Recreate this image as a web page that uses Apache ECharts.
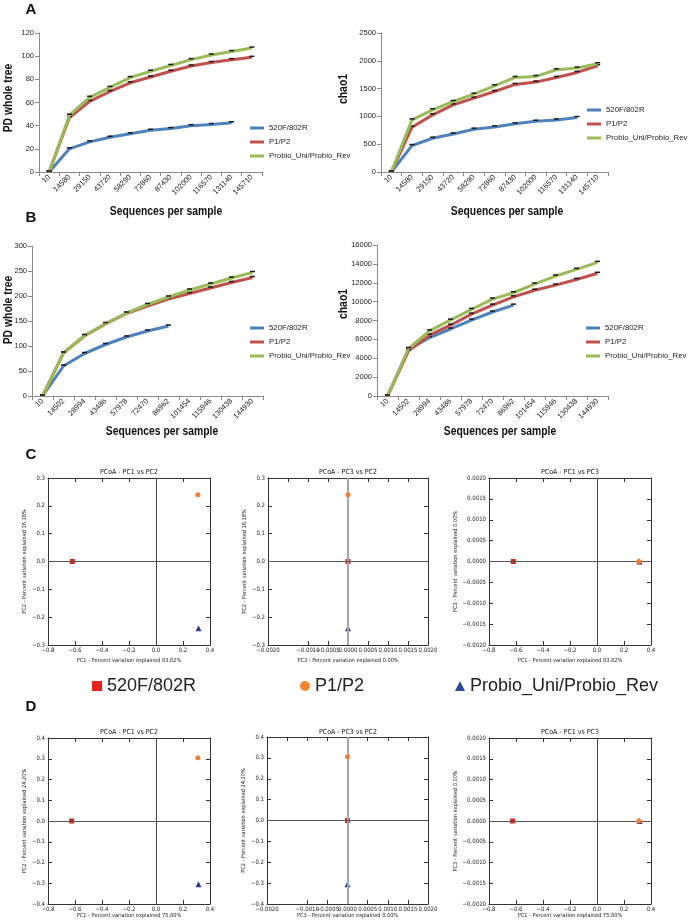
<!DOCTYPE html>
<html>
<head>
<meta charset="utf-8">
<script src="https://cdn.jsdelivr.net/npm/echarts@6/dist/echarts.min.js"></script>
<style>
html,body{margin:0;padding:0;background:#fff;}
#chart{width:689px;height:922px;}
</style>
</head>
<body>
<div id="chart"></div>
<script>
// ---------------- DATA ----------------
const groupNames = ['520F/802R', 'P1/P2', 'Probio_Uni/Probio_Rev'];

const catsA = ['10','14580','29150','43720','58290','72860','87430','102000','116570','131140','145710'];
const catsB = ['10','14502','28994','43486','57978','72470','86962','101454','115946','130438','144930'];

// Panel A - PD whole tree
const pdA_520 = [0, 20, 26, 30, 33, 36, 37.5, 40, 41, 42.5];
const pdA_P1 = [0, 47, 61, 69.5, 77, 82, 87, 91.5, 94.5, 97, 99];
const pdA_Probio = [0, 49, 64.5, 73, 81.5, 87, 92, 97, 101, 104, 107];
// Panel A - chao1
const chaoA_520 = [0, 475, 607, 685, 770, 811, 866, 913, 937, 980];
const chaoA_P1 = [0, 805, 1028, 1208, 1328, 1448, 1575, 1617, 1701, 1791, 1911];
const chaoA_Probio = [0, 937, 1118, 1268, 1400, 1550, 1701, 1719, 1839, 1869, 1947];
// Panel B - PD whole tree
const pdB_520 = [0, 60, 85, 103, 118, 130, 140];
const pdB_P1 = [0, 86, 120, 144, 165, 180, 194, 205, 216, 227, 237];
const pdB_Probio = [0, 86, 121, 145, 166, 183, 198, 212, 224, 236, 247];
// Panel B - chao1
const chaoB_520 = [0, 4900, 6200, 7100, 8050, 8900, 9630];
const chaoB_P1 = [0, 4780, 6450, 7500, 8670, 9630, 10510, 11200, 11750, 12350, 13000];
const chaoB_Probio = [0, 5030, 6900, 8040, 9170, 10270, 10940, 11860, 12710, 13420, 14160];

// PCoA coordinates, order: 520F/802R, P1/P2, Probio_Uni/Probio_Rev
const pcoaC_PC1 = [-0.62, 0.31, 0.315];
const pcoaC_PC2 = [0.0, 0.24, -0.24];
const pcoaC_PC3 = [0.0, 0.0, 0.0];
const pcoaD_PC1 = [-0.625, 0.31, 0.315];
const pcoaD_PC2 = [0.0, 0.305, -0.305];
const pcoaD_PC3 = [0.0, 0.0, 0.0];

// ---------------- STYLE ----------------
const FR = '"Liberation Sans", Arial, sans-serif';
const FM = '"DejaVu Sans Condensed", "DejaVu Sans", sans-serif';
const lineColors = ['#4F81BD', '#C0504D', '#9BBB59'];
const ptColors = ['#d6261f', '#f08030', '#2d3c8c'];
const ptLegendColors = ['#e8221b', '#f3862e', '#2f4a9c'];
const ptSymbols = ['rect', 'circle', 'triangle'];

const option = {
  animation: false,
  backgroundColor: '#ffffff',
  grid: [], xAxis: [], yAxis: [], series: [], legend: [], graphic: []
};

function addLine(box, cats, yMin, yMax, yInt, dataSets, legPos) {
  const gi = option.grid.length;
  option.grid.push({left: box[0], top: box[1], width: box[2], height: box[3]});
  const xi = option.xAxis.length;
  option.xAxis.push({
    gridIndex: gi, type: 'category', data: cats, boundaryGap: true,
    axisLine: {lineStyle: {color: '#8a8a8a', width: 1}},
    axisTick: {show: true, interval: 0, length: 4, lineStyle: {color: '#8a8a8a'}},
    axisLabel: {interval: 0, rotate: 45, fontSize: 7.5, fontFamily: FR, color: '#222', margin: 4},
    splitLine: {show: false}
  });
  const yi = option.yAxis.length;
  option.yAxis.push({
    gridIndex: gi, type: 'value', min: yMin, max: yMax, interval: yInt,
    axisLine: {show: true, lineStyle: {color: '#8a8a8a'}},
    axisTick: {show: true, length: 4, lineStyle: {color: '#8a8a8a'}},
    axisLabel: {fontSize: 7.5, fontFamily: FR, color: '#222', margin: 5, formatter: v => String(v)},
    splitLine: {show: false}
  });
  dataSets.forEach((d, k) => {
    option.series.push({
      type: 'line', name: groupNames[k], xAxisIndex: xi, yAxisIndex: yi, data: d,
      lineStyle: {color: lineColors[k], width: 3},
      itemStyle: {color: '#1a1a1a', borderWidth: 0},
      symbol: 'rect', symbolSize: [5, 1.5], symbolOffset: [0, -1], showSymbol: true, showAllSymbol: true,
      z: 2 + k
    });
  });
  option.legend.push({
    orient: 'vertical', left: legPos[0], top: legPos[1], padding: 0,
    itemWidth: 14, itemHeight: 3, itemGap: 4,
    textStyle: {fontSize: 7.8, fontFamily: FR, color: '#222', lineHeight: 10},
    data: groupNames.map((n, k) => ({name: n, icon: 'rect', itemStyle: {color: lineColors[k], borderWidth: 0}}))
  });
}

function fmt(dec) {
  return function (v) {
    const r = Math.abs(v) < 1e-9 ? 0 : v;
    return (r < 0 ? '\u2212' : '') + Math.abs(r).toFixed(dec);
  };
}

function addPcoa(box, xr, yr, xs, ys, xName, yName, gaps, vLine) {
  const gi = option.grid.length;
  option.grid.push({left: box[0], top: box[1], width: box[2], height: box[3]});
  const axisCommon = (min, max, itv) => ({
    gridIndex: gi, type: 'value', min: min, max: max, interval: itv,
    axisLine: {show: true, onZero: false, lineStyle: {color: '#333', width: 1}},
    axisTick: {show: true, inside: true, length: 4, lineStyle: {color: '#333'}},
    splitLine: {show: false}
  });
  const xi = option.xAxis.length;
  option.xAxis.push(Object.assign(axisCommon(xr[0], xr[1], xr[2]), {
    position: 'bottom',
    axisLabel: {fontSize: 6, fontFamily: FM, color: '#222', margin: 2, formatter: fmt(xr[3]),
      showMinLabel: true, showMaxLabel: true, hideOverlap: false},
    name: xName, nameLocation: 'middle', nameGap: gaps[0],
    nameTextStyle: {fontSize: 5.6, fontFamily: FM, color: '#222'}
  }));
  option.xAxis.push(Object.assign(axisCommon(xr[0], xr[1], xr[2]), {
    position: 'top', axisLabel: {show: false}
  }));
  const yi = option.yAxis.length;
  option.yAxis.push(Object.assign(axisCommon(yr[0], yr[1], yr[2]), {
    position: 'left',
    axisLabel: {fontSize: 6, fontFamily: FM, color: '#222', margin: 3, formatter: fmt(yr[3]),
      showMinLabel: true, showMaxLabel: true, hideOverlap: false},
    name: yName, nameLocation: 'middle', nameGap: gaps[1],
    nameTextStyle: {fontSize: 5.6, fontFamily: FM, color: '#222'}
  }));
  option.yAxis.push(Object.assign(axisCommon(yr[0], yr[1], yr[2]), {
    position: 'right', axisLabel: {show: false}
  }));
  // zero lines
  option.series.push({
    type: 'line', xAxisIndex: xi, yAxisIndex: yi, data: [], silent: true, z: 1,
    markLine: {
      silent: true, symbol: ['none', 'none'], label: {show: false}, animation: false,
      data: [
        {xAxis: 0, lineStyle: vLine},
        {yAxis: 0, lineStyle: {color: '#555', width: 1, type: 'solid'}}
      ]
    }
  });
  // points (triangle first, then square, then circle on top)
  [2, 0, 1].forEach((k, ord) => {
    option.series.push({
      type: 'scatter', name: groupNames[k], xAxisIndex: xi, yAxisIndex: yi,
      data: [[xs[k], ys[k]]], symbol: ptSymbols[k], symbolSize: k === 2 ? 6 : 5,
      itemStyle: {color: ptColors[k], opacity: 1}, z: 3 + ord
    });
  });
}

// ---------------- PANELS A / B ----------------
addLine([39, 33, 223, 139], catsA, 0, 120, 20, [pdA_520, pdA_P1, pdA_Probio], [250, 123]);
addLine([381, 33, 227, 139], catsA, 0, 2500, 500, [chaoA_520, chaoA_P1, chaoA_Probio], [587, 105]);
addLine([32, 246, 231, 150], catsB, 0, 300, 50, [pdB_520, pdB_P1, pdB_Probio], [250, 323]);
addLine([377, 245, 231, 151], catsB, 0, 16000, 2000, [chaoB_520, chaoB_P1, chaoB_Probio], [586, 323]);

// ---------------- PANELS C / D ----------------
const darkV = {color: '#444', width: 1, type: 'solid'};
const grayV = {color: '#a8a8a8', width: 2, type: 'solid'};
const pc1r = [-0.8, 0.4, 0.2, 1];
const pc3r = [-0.002, 0.002, 0.0005, 4];
const pcC2r = [-0.3, 0.3, 0.1, 1];
const pcD2r = [-0.4, 0.4, 0.1, 1];

addPcoa([48, 478, 162, 167], pc1r, pcC2r, pcoaC_PC1, pcoaC_PC2,
  'PC1 - Percent variation explained 83.82%', 'PC2 - Percent variation explained 16.18%', [13, 16], darkV);
addPcoa([268, 478, 160, 167], pc3r, pcC2r, pcoaC_PC3, pcoaC_PC2,
  'PC3 - Percent variation explained 0.00%', 'PC2 - Percent variation explained 16.18%', [13, 17], grayV);
addPcoa([489, 478, 162, 167], pc1r, pc3r, pcoaC_PC1, pcoaC_PC3,
  'PC1 - Percent variation explained 83.82%', 'PC3 - Percent variation explained 0.00%', [13, 27], darkV);

addPcoa([48, 738, 162, 166], pc1r, pcD2r, pcoaD_PC1, pcoaD_PC2,
  'PC1 - Percent variation explained 75.80%', 'PC2 - Percent variation explained 24.20%', [9, 16], darkV);
addPcoa([267, 737, 161, 167], pc3r, pcD2r, pcoaD_PC3, pcoaD_PC2,
  'PC3 - Percent variation explained 0.00%', 'PC2 - Percent variation explained 24.20%', [9, 17], grayV);
addPcoa([489, 738, 162, 166], pc1r, pc3r, pcoaD_PC1, pcoaD_PC3,
  'PC1 - Percent variation explained 75.80%', 'PC3 - Percent variation explained 0.00%', [9, 27], darkV);

// middle legend for PCoA groups
const legX = [92, 300, 455];
groupNames.forEach((n, k) => {
  option.legend.push({
    left: legX[k], top: 677, padding: 0, itemWidth: 10, itemHeight: 10,
    textStyle: {fontSize: 18, fontFamily: FR, color: '#222'},
    data: [{name: n, icon: ptSymbols[k], itemStyle: {color: ptLegendColors[k], borderWidth: 0}}]
  });
});

// ---------------- TEXTS ----------------
function txt(t, x, y, size, weight, family, rot, sx) {
  option.graphic.push({
    type: 'text', x: x, y: y, rotation: rot || 0, scaleX: sx || 1, silent: true,
    style: {text: t, x: 0, y: 0, align: 'center', verticalAlign: 'middle',
      fontSize: size, fontWeight: weight, fontFamily: family, fill: '#111'}
  });
}
txt('A', 31, 10, 15, 'bold', FR);
txt('B', 31, 218, 15, 'bold', FR);
txt('C', 31, 455, 15, 'bold', FR);
txt('D', 31, 707, 15, 'bold', FR);

const SX = 0.83;
txt('PD whole tree', 9, 98, 12.5, 'bold', FR, Math.PI / 2, SX);
txt('chao1', 344, 89, 12.5, 'bold', FR, Math.PI / 2, SX);
txt('PD whole tree', 9, 310, 12.5, 'bold', FR, Math.PI / 2, SX);
txt('chao1', 344, 304, 12.5, 'bold', FR, Math.PI / 2, SX);
txt('Sequences per sample', 166, 212, 12.5, 'bold', FR, 0, SX);
txt('Sequences per sample', 507, 212, 12.5, 'bold', FR, 0, SX);
txt('Sequences per sample', 162, 432, 12.5, 'bold', FR, 0, SX);
txt('Sequences per sample', 500, 432, 12.5, 'bold', FR, 0, SX);

txt('PCoA - PC1 vs PC2', 129, 472, 7, 'normal', FM);
txt('PCoA - PC3 vs PC2', 348, 472, 7, 'normal', FM);
txt('PCoA - PC1 vs PC3', 570, 472, 7, 'normal', FM);
txt('PCoA - PC1 vs PC2', 129, 732, 7, 'normal', FM);
txt('PCoA - PC3 vs PC2', 348, 732, 7, 'normal', FM);
txt('PCoA - PC1 vs PC3', 570, 732, 7, 'normal', FM);

const chart = echarts.init(document.getElementById('chart'), null, {renderer: 'canvas'});
chart.setOption(option);
</script>
</body>
</html>
